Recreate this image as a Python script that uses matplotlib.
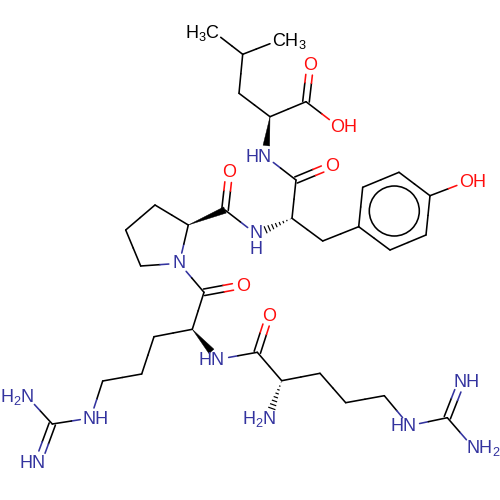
import numpy as np
import matplotlib
matplotlib.use("Agg")
import matplotlib.pyplot as plt
from matplotlib.patches import Polygon, Circle

plt.rcParams['font.family'] = ['Liberation Sans', 'DejaVu Sans']
plt.rcParams['mathtext.fontset'] = 'custom'
plt.rcParams['mathtext.rm'] = 'Liberation Sans'

BLACK, BLUE, RED = '#000000', '#33339f', '#ff0d0d'

# atom: (x, y, element)
atoms = {
 'me1': (220.7, 37.3, 'C'), 'cg': (242.7, 54.3, 'C'), 'me2': (270, 43.7, 'C'), 'cb1': (239, 93.3, 'C'),
 'ca1': (270, 116.7, 'C'), 'c1': (306, 101.7, 'C'), 'o1': (310.3, 64.3, 'O'), 'oh1': (337.7, 126, 'O'),
 'n2': (265, 156, 'N'), 'c2': (296, 180, 'C'), 'o2': (332.3, 165, 'O'), 'ca2': (292, 218.3, 'C'),
 'cb2': (322.7, 241, 'C'), 'r1': (358.7, 226.7, 'C'), 'r2': (362.7, 187.3, 'C'), 'r3': (399, 172.3, 'C'),
 'r4': (430, 195.7, 'C'), 'r5': (426, 235, 'C'), 'r6': (390, 250, 'C'), 'oh2': (466.7, 181.7, 'O'),
 'n3': (256, 234, 'N'), 'c3': (225, 210, 'C'), 'o3': (229.3, 171.7, 'O'), 'ca3': (188.3, 225, 'C'),
 'p1': (155, 205, 'C'), 'p2': (125.7, 230, 'C'), 'p3': (140.7, 266, 'C'), 'n4': (179.3, 263.3, 'N'),
 'c4': (204, 292.3, 'C'), 'o4': (243.3, 285, 'O'), 'ca4': (192.3, 329.3, 'C'), 's1': (154, 336.7, 'C'),
 's2': (141.7, 374, 'C'), 's3': (102.7, 381, 'C'), 'n5': (90.7, 418, 'N'), 'g1': (52.3, 424, 'C'),
 'n6': (27.3, 396.7, 'N'), 'n7': (38.3, 462, 'N'), 'n8': (218.3, 359.3, 'N'), 'c5': (257.3, 352.3, 'C'),
 'o5': (269.3, 315, 'O'), 'ca5': (281.7, 380.7, 'C'), 'n9': (268.3, 418.3, 'N'), 't1': (320, 373.3, 'C'),
 't2': (345.7, 402.7, 'C'), 't3': (384.3, 395.7, 'C'), 'n10': (409.3, 425.7, 'N'), 'g2': (447.3, 417.7, 'C'),
 'n11': (461.7, 381, 'N'), 'n12': (473.3, 447.7, 'N'),
}
single_bonds = [
 ('me1','cg'),('cg','me2'),('cg','cb1'),('cb1','ca1'),('ca1','c1'),('c1','oh1'),('n2','c2'),('c2','ca2'),
 ('ca2','cb2'),('cb2','r1'),('r1','r2'),('r2','r3'),('r3','r4'),('r4','r5'),('r5','r6'),('r6','r1'),
 ('r4','oh2'),('n3','c3'),('ca3','p1'),('p1','p2'),('p2','p3'),('p3','n4'),('n4','ca3'),('n4','c4'),
 ('c4','ca4'),('ca4','s1'),('s1','s2'),('s2','s3'),('s3','n5'),('n5','g1'),('g1','n6'),('n8','c5'),
 ('c5','ca5'),('ca5','t1'),('t1','t2'),('t2','t3'),('t3','n10'),('n10','g2'),('g2','n12'),
]
double_bonds = [('c1','o1'),('c2','o2'),('c3','o3'),('c4','o4'),('c5','o5'),('g1','n7'),('g2','n11')]
wedge_bonds = [('ca1','n2'),('ca3','c3'),('ca4','n8')]
hash_bonds = [('ca2','n3'),('ca5','n9')]
ring_center = (394.3, 211)
ring_radius = 25

# text, centre x, baseline y, colour
labels = [
 (r'$\mathregular{H_3C}$', 202, 38.3, BLACK), (r'$\mathregular{CH_3}$', 289.7, 46, BLACK),
 ('O', 310.3, 70, RED), ('OH', 343.7, 131.7, RED), ('HN', 258.7, 161.7, BLUE),
 ('O', 332.3, 170.7, RED), ('OH', 472.3, 186.7, RED), ('O', 229.3, 177, RED),
 ('N', 179.3, 268.3, BLUE),
 ('O', 243.3, 290.7, RED), ('HN', 212, 365, BLUE), ('NH', 96, 424, BLUE),
 (r'$\mathregular{H_2N}$', 17, 402.3, BLUE), ('HN', 33, 467.7, BLUE),
 ('O', 269.3, 320.7, RED), (r'$\mathregular{H_2N}$', 259, 424, BLUE),
 ('HN', 404, 431.3, BLUE), ('NH', 467, 386.7, BLUE), (r'$\mathregular{NH_2}$', 483, 453.3, BLUE),
]
stacked_label = ('N\nH', 256, 241.5, BLUE)

fig = plt.figure(figsize=(5, 5), dpi=100)
ax = fig.add_axes([0, 0, 1, 1])
ax.set_xlim(0, 500)
ax.set_ylim(500, 0)
ax.axis('off')

LW = 1.15
GAP = 10.5
COL = {'C': BLACK, 'N': BLUE, 'O': RED}


def pts(a, b):
    pa, pb = np.array(atoms[a][:2]), np.array(atoms[b][:2])
    return pa, pb, atoms[a][2], atoms[b][2]


def trimmed(a, b):
    pa, pb, ea, eb = pts(a, b)
    u = (pb - pa) / np.linalg.norm(pb - pa)
    s = pa + u * (GAP if ea != 'C' else 0)
    e = pb - u * (GAP if eb != 'C' else 0)
    return s, e, pa, pb, ea, eb


def half_line(s, e, mid, ea, eb):
    ax.plot([s[0], mid[0]], [s[1], mid[1]], color=COL[ea], lw=LW, solid_capstyle='round')
    ax.plot([mid[0], e[0]], [mid[1], e[1]], color=COL[eb], lw=LW, solid_capstyle='round')


for a, b in single_bonds:
    s, e, pa, pb, ea, eb = trimmed(a, b)
    half_line(s, e, (pa + pb) / 2, ea, eb)

for a, b in double_bonds:
    s, e, pa, pb, ea, eb = trimmed(a, b)
    u = (pb - pa) / np.linalg.norm(pb - pa)
    n = np.array([-u[1], u[0]]) * 3.3
    m = (pa + pb) / 2
    for sgn in (-1, 1):
        half_line(s + sgn * n, e + sgn * n, m + sgn * n, ea, eb)

for a, b in wedge_bonds:
    s, e, pa, pb, ea, eb = trimmed(a, b)
    u = (e - s) / np.linalg.norm(e - s)
    n = np.array([-u[1], u[0]]) * 3.3
    ax.add_patch(Polygon([s, e + n, e - n], closed=True, fc=BLACK, ec=BLACK, lw=0.3))

for a, b in hash_bonds:
    s, e, pa, pb, ea, eb = trimmed(a, b)
    u = (e - s) / np.linalg.norm(e - s)
    n = np.array([-u[1], u[0]])
    for t in np.linspace(0.06, 1.0, 8):
        c = s + (e - s) * t
        h = 3.8 * t
        ax.plot([c[0] - n[0] * h, c[0] + n[0] * h], [c[1] - n[1] * h, c[1] + n[1] * h],
                color=BLACK, lw=0.85, solid_capstyle='butt')

ax.add_patch(Circle(ring_center, ring_radius, fc='none', ec=BLACK, lw=LW))

for txt, x, y, c in labels:
    ax.text(x, y, txt, color=c, ha='center', va='baseline', fontsize=13)

ax.text(stacked_label[1], stacked_label[2], stacked_label[0], color=stacked_label[3],
        ha='center', va='center', multialignment='center', fontsize=13, linespacing=1.0)

fig.savefig('out.png', dpi=100)
